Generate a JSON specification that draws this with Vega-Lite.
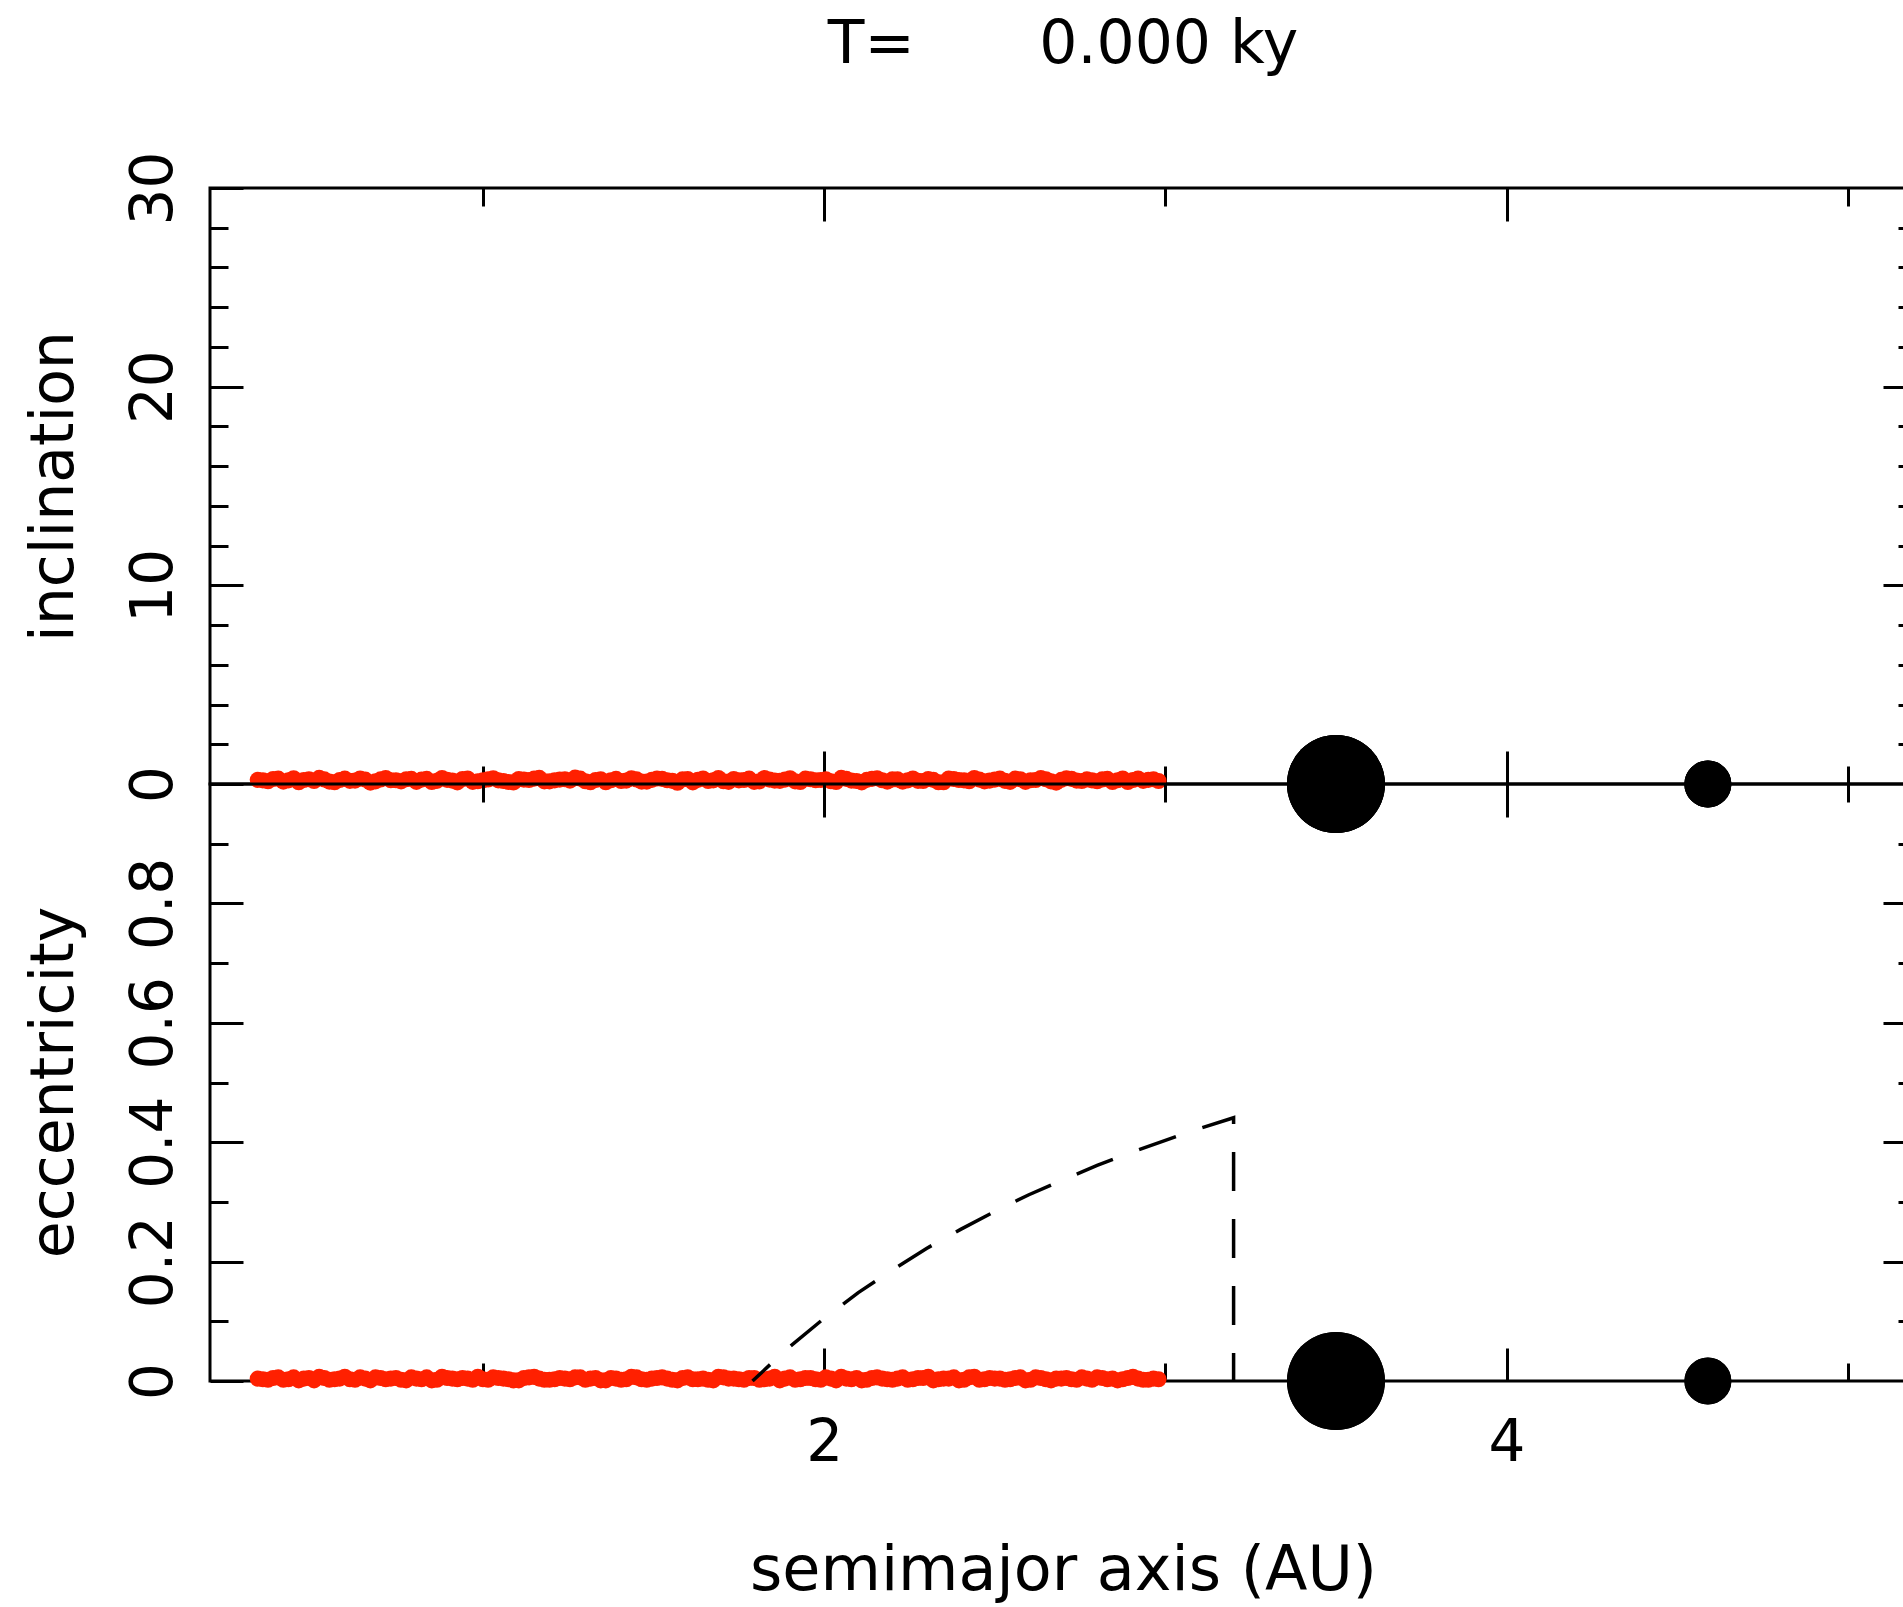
{
  "$schema": "https://vega.github.io/schema/vega-lite/v6.json",
  "background": "white",
  "padding": {"left": 22, "top": 13, "right": 0, "bottom": 0},
  "config": {
    "view": {"stroke": "black", "strokeWidth": 3, "fill": null},
    "font": "DejaVu Sans",
    "concat": {"spacing": 0},
    "axis": {
      "domain": false, "grid": false, "tickColor": "black", "tickWidth": 3,
      "labelColor": "black", "titleColor": "black", "labelFont": "DejaVu Sans", "titleFont": "DejaVu Sans",
      "labelFontSize": 58, "titleFontSize": 60, "titleFontWeight": "normal",
      "labelFlush": false, "labelOverlap": false, "labelBound": false
    }
  },
  "datasets": {
    "disk": [
      {"a":0.34,"inc":0.21,"ecc":0.004},{"a":0.37,"inc":0.14,"ecc":0.002},{"a":0.40,"inc":0.27,"ecc":0.006},{"a":0.43,"inc":0.18,"ecc":0.003},{"a":0.46,"inc":0.09,"ecc":0.001},
      {"a":0.49,"inc":0.24,"ecc":0.005},{"a":0.52,"inc":0.31,"ecc":0.007},{"a":0.55,"inc":0.12,"ecc":0.002},{"a":0.58,"inc":0.20,"ecc":0.004},{"a":0.61,"inc":0.16,"ecc":0.003},
      {"a":0.64,"inc":0.28,"ecc":0.006},{"a":0.67,"inc":0.07,"ecc":0.001},{"a":0.70,"inc":0.23,"ecc":0.005},{"a":0.73,"inc":0.19,"ecc":0.004},{"a":0.76,"inc":0.13,"ecc":0.002},
      {"a":0.79,"inc":0.26,"ecc":0.006},{"a":0.82,"inc":0.22,"ecc":0.003},{"a":0.85,"inc":0.10,"ecc":0.001},{"a":0.88,"inc":0.30,"ecc":0.007},{"a":0.91,"inc":0.17,"ecc":0.004},
      {"a":0.94,"inc":0.25,"ecc":0.005},{"a":0.97,"inc":0.11,"ecc":0.002},{"a":1.00,"inc":0.19,"ecc":0.003},{"a":1.03,"inc":0.29,"ecc":0.006},{"a":1.06,"inc":0.15,"ecc":0.004},
      {"a":1.09,"inc":0.08,"ecc":0.001},{"a":1.12,"inc":0.22,"ecc":0.005},{"a":1.15,"inc":0.27,"ecc":0.007},{"a":1.18,"inc":0.13,"ecc":0.002},{"a":1.21,"inc":0.18,"ecc":0.003},
      {"a":1.24,"inc":0.24,"ecc":0.004},{"a":1.27,"inc":0.32,"ecc":0.006},{"a":1.30,"inc":0.14,"ecc":0.002},{"a":1.33,"inc":0.20,"ecc":0.005},{"a":1.36,"inc":0.09,"ecc":0.001},
      {"a":1.39,"inc":0.26,"ecc":0.004},{"a":1.42,"inc":0.17,"ecc":0.003},{"a":1.45,"inc":0.23,"ecc":0.006},{"a":1.48,"inc":0.12,"ecc":0.002},{"a":1.51,"inc":0.28,"ecc":0.005},
      {"a":1.54,"inc":0.19,"ecc":0.004},{"a":1.57,"inc":0.06,"ecc":0.001},{"a":1.60,"inc":0.25,"ecc":0.006},{"a":1.63,"inc":0.21,"ecc":0.003},{"a":1.66,"inc":0.15,"ecc":0.002},
      {"a":1.69,"inc":0.30,"ecc":0.007},{"a":1.72,"inc":0.11,"ecc":0.004},{"a":1.75,"inc":0.18,"ecc":0.003},{"a":1.78,"inc":0.27,"ecc":0.005},{"a":1.81,"inc":0.13,"ecc":0.002},
      {"a":1.84,"inc":0.22,"ecc":0.004},{"a":1.87,"inc":0.16,"ecc":0.001},{"a":1.90,"inc":0.29,"ecc":0.006},{"a":1.93,"inc":0.10,"ecc":0.003},{"a":1.96,"inc":0.24,"ecc":0.005},
      {"a":1.99,"inc":0.20,"ecc":0.002},{"a":2.02,"inc":0.14,"ecc":0.004},{"a":2.05,"inc":0.31,"ecc":0.007},{"a":2.08,"inc":0.17,"ecc":0.003},{"a":2.11,"inc":0.08,"ecc":0.001},
      {"a":2.14,"inc":0.26,"ecc":0.005},{"a":2.17,"inc":0.19,"ecc":0.004},{"a":2.20,"inc":0.23,"ecc":0.002},{"a":2.23,"inc":0.12,"ecc":0.006},{"a":2.26,"inc":0.28,"ecc":0.003},
      {"a":2.29,"inc":0.15,"ecc":0.005},{"a":2.32,"inc":0.21,"ecc":0.001},{"a":2.35,"inc":0.09,"ecc":0.004},{"a":2.38,"inc":0.25,"ecc":0.006},{"a":2.41,"inc":0.18,"ecc":0.002},
      {"a":2.44,"inc":0.30,"ecc":0.007},{"a":2.47,"inc":0.13,"ecc":0.003},{"a":2.50,"inc":0.22,"ecc":0.004},{"a":2.53,"inc":0.16,"ecc":0.002},{"a":2.56,"inc":0.27,"ecc":0.005},
      {"a":2.59,"inc":0.11,"ecc":0.001},{"a":2.62,"inc":0.20,"ecc":0.006},{"a":2.65,"inc":0.24,"ecc":0.003},{"a":2.68,"inc":0.07,"ecc":0.004},{"a":2.71,"inc":0.29,"ecc":0.005},
      {"a":2.74,"inc":0.17,"ecc":0.002},{"a":2.77,"inc":0.23,"ecc":0.004},{"a":2.80,"inc":0.14,"ecc":0.006},{"a":2.83,"inc":0.26,"ecc":0.003},{"a":2.86,"inc":0.19,"ecc":0.001},
      {"a":2.89,"inc":0.10,"ecc":0.005},{"a":2.92,"inc":0.28,"ecc":0.004},{"a":2.95,"inc":0.21,"ecc":0.002},{"a":2.98,"inc":0.15,"ecc":0.003},
      {"a":0.355,"inc":0.18,"ecc":0.003},{"a":0.385,"inc":0.25,"ecc":0.005},{"a":0.415,"inc":0.12,"ecc":0.002},{"a":0.445,"inc":0.29,"ecc":0.006},{"a":0.475,"inc":0.20,"ecc":0.004},
      {"a":0.505,"inc":0.15,"ecc":0.001},{"a":0.535,"inc":0.23,"ecc":0.005},{"a":0.565,"inc":0.09,"ecc":0.003},{"a":0.595,"inc":0.27,"ecc":0.007},{"a":0.625,"inc":0.17,"ecc":0.002},
      {"a":0.655,"inc":0.22,"ecc":0.004},{"a":0.685,"inc":0.13,"ecc":0.006},{"a":0.715,"inc":0.30,"ecc":0.003},{"a":0.745,"inc":0.19,"ecc":0.005},{"a":0.775,"inc":0.24,"ecc":0.001},
      {"a":0.805,"inc":0.11,"ecc":0.004},{"a":0.835,"inc":0.26,"ecc":0.006},{"a":0.865,"inc":0.16,"ecc":0.002},{"a":0.895,"inc":0.21,"ecc":0.005},{"a":0.925,"inc":0.08,"ecc":0.003},
      {"a":0.955,"inc":0.28,"ecc":0.004},{"a":0.985,"inc":0.14,"ecc":0.007},{"a":1.015,"inc":0.23,"ecc":0.002},{"a":1.045,"inc":0.18,"ecc":0.005},{"a":1.075,"inc":0.10,"ecc":0.003},
      {"a":1.105,"inc":0.25,"ecc":0.001},{"a":1.135,"inc":0.20,"ecc":0.006},{"a":1.165,"inc":0.31,"ecc":0.004},{"a":1.195,"inc":0.13,"ecc":0.002},{"a":1.225,"inc":0.22,"ecc":0.005},
      {"a":1.255,"inc":0.17,"ecc":0.003},{"a":1.285,"inc":0.27,"ecc":0.006},{"a":1.315,"inc":0.09,"ecc":0.004},{"a":1.345,"inc":0.24,"ecc":0.001},{"a":1.375,"inc":0.19,"ecc":0.005},
      {"a":1.405,"inc":0.15,"ecc":0.002},{"a":1.435,"inc":0.29,"ecc":0.007},{"a":1.465,"inc":0.12,"ecc":0.003},{"a":1.495,"inc":0.21,"ecc":0.004},{"a":1.525,"inc":0.26,"ecc":0.006},
      {"a":1.555,"inc":0.16,"ecc":0.002},{"a":1.585,"inc":0.23,"ecc":0.005},{"a":1.615,"inc":0.08,"ecc":0.003},{"a":1.645,"inc":0.28,"ecc":0.004},{"a":1.675,"inc":0.18,"ecc":0.001},
      {"a":1.705,"inc":0.14,"ecc":0.006},{"a":1.735,"inc":0.25,"ecc":0.004},{"a":1.765,"inc":0.20,"ecc":0.002},{"a":1.795,"inc":0.11,"ecc":0.005},{"a":1.825,"inc":0.30,"ecc":0.003},
      {"a":1.855,"inc":0.17,"ecc":0.007},{"a":1.885,"inc":0.22,"ecc":0.004},{"a":1.915,"inc":0.13,"ecc":0.002},{"a":1.945,"inc":0.27,"ecc":0.005},{"a":1.975,"inc":0.19,"ecc":0.003},
      {"a":2.005,"inc":0.24,"ecc":0.006},{"a":2.035,"inc":0.10,"ecc":0.001},{"a":2.065,"inc":0.26,"ecc":0.004},{"a":2.095,"inc":0.15,"ecc":0.005},{"a":2.125,"inc":0.21,"ecc":0.002},
      {"a":2.155,"inc":0.29,"ecc":0.006},{"a":2.185,"inc":0.12,"ecc":0.003},{"a":2.215,"inc":0.23,"ecc":0.004},{"a":2.245,"inc":0.18,"ecc":0.002},{"a":2.275,"inc":0.16,"ecc":0.005},
      {"a":2.305,"inc":0.25,"ecc":0.007},{"a":2.335,"inc":0.09,"ecc":0.003},{"a":2.365,"inc":0.28,"ecc":0.004},{"a":2.395,"inc":0.20,"ecc":0.001},{"a":2.425,"inc":0.14,"ecc":0.006},
      {"a":2.455,"inc":0.22,"ecc":0.002},{"a":2.485,"inc":0.17,"ecc":0.005},{"a":2.515,"inc":0.27,"ecc":0.004},{"a":2.545,"inc":0.11,"ecc":0.003},{"a":2.575,"inc":0.24,"ecc":0.006},
      {"a":2.605,"inc":0.19,"ecc":0.002},{"a":2.635,"inc":0.30,"ecc":0.005},{"a":2.665,"inc":0.13,"ecc":0.001},{"a":2.695,"inc":0.21,"ecc":0.004},{"a":2.725,"inc":0.26,"ecc":0.003},
      {"a":2.755,"inc":0.15,"ecc":0.006},{"a":2.785,"inc":0.18,"ecc":0.002},{"a":2.815,"inc":0.23,"ecc":0.005},{"a":2.845,"inc":0.10,"ecc":0.004},{"a":2.875,"inc":0.28,"ecc":0.003},
      {"a":2.905,"inc":0.20,"ecc":0.007},{"a":2.935,"inc":0.16,"ecc":0.002},{"a":2.965,"inc":0.24,"ecc":0.004}
    ],
    "planets": [
      {"name":"big","a":3.50,"inc":0,"ecc":0,"mass":1.0},
      {"name":"small","a":4.59,"inc":0,"ecc":0,"mass":0.3}
    ],
    "curve": [
      {"idx":0,"a":1.79,"ecc":0.000},{"idx":1,"a":1.85,"ecc":0.032},{"idx":2,"a":1.90,"ecc":0.058},{"idx":3,"a":2.00,"ecc":0.105},
      {"idx":4,"a":2.10,"ecc":0.148},{"idx":5,"a":2.20,"ecc":0.186},{"idx":6,"a":2.30,"ecc":0.222},{"idx":7,"a":2.40,"ecc":0.254},
      {"idx":8,"a":2.50,"ecc":0.284},{"idx":9,"a":2.60,"ecc":0.312},{"idx":10,"a":2.70,"ecc":0.337},{"idx":11,"a":2.80,"ecc":0.361},
      {"idx":12,"a":2.90,"ecc":0.383},{"idx":13,"a":3.00,"ecc":0.403},{"idx":14,"a":3.10,"ecc":0.423},{"idx":15,"a":3.20,"ecc":0.441},
      {"idx":16,"a":3.20,"ecc":0.000}
    ]
  },
  "bounds": "flush",
  "vconcat": [
    {
      "width": 1706,
      "height": 596,
      "title": {
        "text": "T=\u00a0\u00a0\u00a0\u00a0\u00a0\u00a0\u20060.000\u00a0ky",
        "anchor": "middle", "font": "DejaVu Sans", "fontSize": 60, "fontWeight": "normal",
        "color": "black", "baseline": "alphabetic", "offset": 28
      },
      "resolve": {"axis": {"x": "independent", "y": "independent"}},
      "layer": [
        {
          "data": {"name": "disk"},
          "mark": {"type": "circle", "color": "#ff2000", "opacity": 1, "size": 260},
          "encoding": {
            "x": {"field": "a", "type": "quantitative", "scale": {"domain": [0.2, 5.2], "nice": false, "zero": false},
                  "axis": {"orient": "top", "values": [2, 4], "tickSize": -33, "labels": false, "title": null}},
            "y": {"field": "inc", "type": "quantitative", "scale": {"domain": [0, 30], "nice": false},
                  "axis": {"orient": "left", "values": [0, 10, 20, 30], "tickSize": -33, "labelAngle": -90,
                           "labelAlign": "center", "labelBaseline": "alphabetic", "labelPadding": 72,
                           "title": "inclination", "titleAngle": -90, "titleX": -156, "titleY": 298,
                           "titleAlign": "center", "titleBaseline": "middle"}}
          }
        },
        {
          "data": {"name": "planets"},
          "mark": {"type": "circle", "color": "black", "opacity": 1},
          "encoding": {
            "x": {"field": "a", "type": "quantitative", "scale": {"domain": [0.2, 5.2], "nice": false, "zero": false},
                  "axis": {"orient": "top", "values": [1, 3, 5], "tickSize": -18, "labels": false, "title": null}},
            "y": {"field": "inc", "type": "quantitative", "scale": {"domain": [0, 30], "nice": false},
                  "axis": {"orient": "left", "values": [2,4,6,8,12,14,16,18,22,24,26,28], "tickSize": -18, "labels": false, "title": null}},
            "size": {"field": "mass", "type": "quantitative", "scale": {"type": "linear", "zero": false, "domain": [0.3, 1.0], "range": [2209, 9604]}, "legend": null}
          }
        },
        {
          "data": {"name": "planets"},
          "mark": {"type": "circle", "color": "black", "opacity": 1},
          "encoding": {
            "x": {"field": "a", "type": "quantitative", "scale": {"domain": [0.2, 5.2], "nice": false, "zero": false},
                  "axis": {"orient": "bottom", "values": [2, 4], "tickSize": -33, "labels": false, "title": null}},
            "y": {"field": "inc", "type": "quantitative", "scale": {"domain": [0, 30], "nice": false},
                  "axis": {"orient": "right", "values": [10, 20], "tickSize": -33, "labels": false, "title": null}},
            "size": {"field": "mass", "type": "quantitative", "scale": {"type": "linear", "zero": false, "domain": [0.3, 1.0], "range": [2209, 9604]}, "legend": null}
          }
        },
        {
          "data": {"name": "planets"},
          "mark": {"type": "circle", "color": "black", "opacity": 1},
          "encoding": {
            "x": {"field": "a", "type": "quantitative", "scale": {"domain": [0.2, 5.2], "nice": false, "zero": false},
                  "axis": {"orient": "bottom", "values": [1, 3, 5], "tickSize": -18, "labels": false, "title": null}},
            "y": {"field": "inc", "type": "quantitative", "scale": {"domain": [0, 30], "nice": false},
                  "axis": {"orient": "right", "values": [2,4,6,8,12,14,16,18,22,24,26,28], "tickSize": -18, "labels": false, "title": null}},
            "size": {"field": "mass", "type": "quantitative", "scale": {"type": "linear", "zero": false, "domain": [0.3, 1.0], "range": [2209, 9604]}, "legend": null}
          }
        }
      ]
    },
    {
      "width": 1706,
      "height": 597,
      "resolve": {"axis": {"x": "independent", "y": "independent"}},
      "layer": [
        {
          "data": {"name": "disk"},
          "mark": {"type": "circle", "color": "#ff2000", "opacity": 1, "size": 260},
          "encoding": {
            "x": {"field": "a", "type": "quantitative", "scale": {"domain": [0.2, 5.2], "nice": false, "zero": false},
                  "axis": {"orient": "bottom", "values": [2, 4], "tickSize": -33, "labelPadding": 66,
                           "labelAlign": "center", "labelBaseline": "top",
                           "title": "semimajor axis (AU)", "titleFontSize": 62, "titleX": 853, "titleY": 189,
                           "titleAlign": "center", "titleBaseline": "middle"}},
            "y": {"field": "ecc", "type": "quantitative", "scale": {"domain": [0, 1], "nice": false},
                  "axis": {"orient": "left", "values": [0, 0.2, 0.4, 0.6, 0.8], "tickSize": -33, "labelAngle": -90,
                           "labelAlign": "center", "labelBaseline": "alphabetic", "labelPadding": 72,
                           "labelExpr": "datum.value == 0 ? '0' : format(datum.value, '.1f')",
                           "title": "eccentricity", "titleAngle": -90, "titleX": -156, "titleY": 298,
                           "titleAlign": "center", "titleBaseline": "middle"}}
          }
        },
        {
          "data": {"name": "planets"},
          "mark": {"type": "circle", "color": "black", "opacity": 1},
          "encoding": {
            "x": {"field": "a", "type": "quantitative", "scale": {"domain": [0.2, 5.2], "nice": false, "zero": false},
                  "axis": {"orient": "bottom", "values": [1, 3, 5], "tickSize": -18, "labels": false, "title": null}},
            "y": {"field": "ecc", "type": "quantitative", "scale": {"domain": [0, 1], "nice": false},
                  "axis": {"orient": "left", "values": [0.1, 0.3, 0.5, 0.7, 0.9], "tickSize": -18, "labels": false, "title": null}},
            "size": {"field": "mass", "type": "quantitative", "scale": {"type": "linear", "zero": false, "domain": [0.3, 1.0], "range": [2209, 9604]}, "legend": null}
          }
        },
        {
          "data": {"name": "curve"},
          "mark": {"type": "line", "color": "black", "strokeWidth": 3.5, "strokeDash": [39, 28], "strokeDashOffset": 15},
          "encoding": {
            "x": {"field": "a", "type": "quantitative", "scale": {"domain": [0.2, 5.2], "nice": false, "zero": false},
                  "axis": {"orient": "top", "values": [2, 4], "tickSize": -33, "labels": false, "title": null}},
            "y": {"field": "ecc", "type": "quantitative", "scale": {"domain": [0, 1], "nice": false},
                  "axis": {"orient": "right", "values": [0.2, 0.4, 0.6, 0.8], "tickSize": -33, "labels": false, "title": null}},
            "order": {"field": "idx", "type": "quantitative"}
          }
        },
        {
          "data": {"name": "planets"},
          "mark": {"type": "circle", "color": "black", "opacity": 1},
          "encoding": {
            "x": {"field": "a", "type": "quantitative", "scale": {"domain": [0.2, 5.2], "nice": false, "zero": false},
                  "axis": {"orient": "top", "values": [1, 3, 5], "tickSize": -18, "labels": false, "title": null}},
            "y": {"field": "ecc", "type": "quantitative", "scale": {"domain": [0, 1], "nice": false},
                  "axis": {"orient": "right", "values": [0.1, 0.3, 0.5, 0.7, 0.9], "tickSize": -18, "labels": false, "title": null}},
            "size": {"field": "mass", "type": "quantitative", "scale": {"type": "linear", "zero": false, "domain": [0.3, 1.0], "range": [2209, 9604]}, "legend": null}
          }
        }
      ]
    }
  ]
}
